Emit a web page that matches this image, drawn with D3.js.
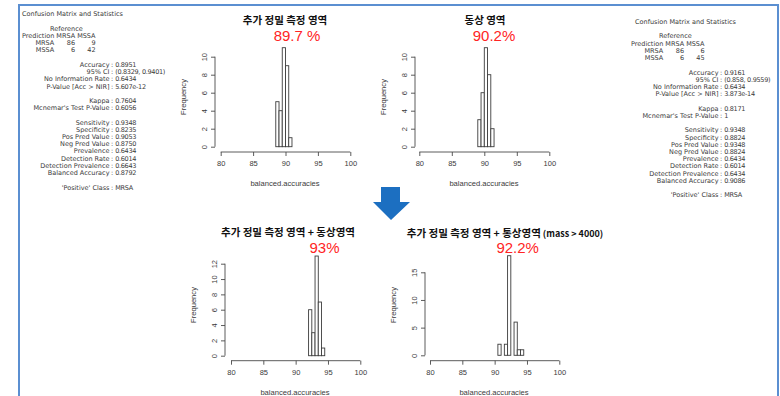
<!DOCTYPE html>
<html>
<head>
<meta charset="utf-8">
<script src="https://cdn.jsdelivr.net/npm/d3@7/dist/d3.min.js"></script>
<style>
  html, body { margin: 0; padding: 0; background: #fff; }
  svg { display: block; }
</style>
</head>
<body>
<svg id="chart" width="780" height="396"></svg>
<script>
// ---------------- DATA ----------------
const histTitles = [
  "추가 정밀 측정 영역",
  "동상 영역",
  "추가 정밀 측정 영역 + 동상영역",
  "추가 정밀 측정 영역 + 통상영역"
];
const histTitleSuffix = ["", "", "", " (mass > 4000)"];
const accuracyLabels = ["89.7 %", "90.2%", "93%", "92.2%"];

const binWidth = 0.5;
const bins1 = [88.5, 89, 89.5, 90, 90.5];
const counts1 = [5, 4, 11, 9, 1];
const bins2 = [89, 89.5, 90, 90.5, 91];
const counts2 = [3, 6, 11, 8, 2];
const bins3 = [92, 92.5, 93, 93.5, 94];
const counts3 = [6, 3, 13, 7, 1];
const bins4 = [90.5, 91, 91.5, 92, 92.5, 93, 93.5, 94];
const counts4 = [2, 0, 2, 18, 0, 6, 1, 1];

const xTicks = [80, 85, 90, 95, 100];
const yTicks1 = [0, 2, 4, 6, 8, 10];
const yTicks2 = [0, 2, 4, 6, 8, 10];
const yTicks3 = [0, 2, 4, 6, 8, 10, 12];
const yTicks4 = [0, 5, 10, 15];
const xLabel = "balanced.accuracies";
const yLabel = "Frequency";

// confusion matrix statistics
const cmTitle = "Confusion Matrix and Statistics";
const matrixCols = ["MRSA", "MSSA"];
const matrixLeft = [[86, 9], [6, 42]];
const matrixRight = [[86, 6], [6, 45]];
const statLabels = [
  "Accuracy", "95% CI", "No Information Rate", "P-Value [Acc > NIR]", null,
  "Kappa", "Mcnemar's Test P-Value", null,
  "Sensitivity", "Specificity", "Pos Pred Value", "Neg Pred Value",
  "Prevalence", "Detection Rate", "Detection Prevalence", "Balanced Accuracy", null,
  "'Positive' Class"
];
const statsLeft = [
  "0.8951", "(0.8329, 0.9401)", "0.6434", "5.607e-12", null,
  "0.7604", "0.6056", null,
  "0.9348", "0.8235", "0.9053", "0.8750", "0.6434", "0.6014", "0.6643", "0.8792", null,
  "MRSA"
];
const statsRight = [
  "0.9161", "(0.858, 0.9559)", "0.6434", "3.873e-14", null,
  "0.8171", "1", null,
  "0.9348", "0.8824", "0.9348", "0.8824", "0.6434", "0.6014", "0.6434", "0.9086", null,
  "MRSA"
];

// ---------------- LAYOUT ----------------
const svg = d3.select("#chart");
const FRAME = "#5b8fd1";
const AX = "#4a4a4a";

// outer frame (bottom side is beyond the picture)
svg.append("path")
  .attr("d", "M19,400 L19,5 L778,5 L778,400")
  .attr("fill", "none").attr("stroke", FRAME).attr("stroke-width", 2);

const panels = [
  { bins: bins1, counts: counts1, yTicks: yTicks1, x80: 220.7, x100: 350.3, y0: 146.7, yTopV: 10, yTopP: 56.7,
    axisY: 152, yAxisX: 215, titleX: 285, titleY: 24, accX: 297, accY: 41, labX: 285, labY: 186, freqX: 186, freqY: 97 },
  { bins: bins2, counts: counts2, yTicks: yTicks2, x80: 419.3, x100: 549.3, y0: 146.7, yTopV: 10, yTopP: 56.7,
    axisY: 152, yAxisX: 415, titleX: 485, titleY: 24, accX: 494, accY: 41, labX: 484, labY: 186, freqX: 386, freqY: 97 },
  { bins: bins3, counts: counts3, yTicks: yTicks3, x80: 231, x100: 360.3, y0: 355.7, yTopV: 12, yTopP: 263.7,
    axisY: 360.7, yAxisX: 225, titleX: 288, titleY: 235.5, accX: 324.5, accY: 252.5, labX: 295, labY: 394.5, freqX: 196, freqY: 305 },
  { bins: bins4, counts: counts4, yTicks: yTicks4, x80: 430, x100: 559.3, y0: 355.3, yTopV: 15, yTopP: 272.3,
    axisY: 360.7, yAxisX: 425, titleX: 505, titleY: 236.5, accX: 517.7, accY: 252.7, labX: 494, labY: 394.5, freqX: 396, freqY: 305 }
];

panels.forEach((p, i) => {
  const g = svg.append("g");
  const x = d3.scaleLinear().domain([80, 100]).range([p.x80, p.x100]);
  const y = d3.scaleLinear().domain([0, p.yTopV]).range([p.y0, p.yTopP]);

  // bars
  g.selectAll("rect.bar").data(p.bins.map((b, k) => ({ b, c: p.counts[k] })))
    .join("rect")
    .attr("x", d => x(d.b))
    .attr("width", d => x(d.b + binWidth) - x(d.b))
    .attr("y", d => y(d.c))
    .attr("height", d => y(0) - y(d.c))
    .attr("fill", "#fff").attr("stroke", "#3c3c3c").attr("stroke-width", 0.9);

  // x axis
  const xa = g.append("g").attr("transform", `translate(0,${p.axisY})`)
    .call(d3.axisBottom(x).tickValues(xTicks).tickSize(4).tickPadding(5).tickFormat(d3.format("d")));
  // y axis
  const ya = g.append("g").attr("transform", `translate(${p.yAxisX},0)`)
    .call(d3.axisLeft(y).tickValues(p.yTicks).tickSize(4).tickPadding(3).tickFormat(d3.format("d")));
  [xa, ya].forEach(a => {
    a.select(".domain").attr("stroke", AX).attr("stroke-width", 0.9)
      .attr("d", a === xa ? `M${x(80)},0H${x(100)}` : `M0,${y(p.yTicks[0])}V${y(p.yTicks[p.yTicks.length - 1])}`);
    a.selectAll(".tick line").attr("stroke", AX).attr("stroke-width", 0.9);
    a.selectAll(".tick text").attr("fill", "#3a3a3a")
      .style("font-family", "'Liberation Sans', Arial, sans-serif").style("font-size", "7.5px");
  });
  ya.selectAll(".tick text")
    .attr("text-anchor", "middle")
    .attr("transform", "translate(-10,0) rotate(-90)")
    .attr("x", 0).attr("dy", "0.32em");

  // axis labels
  g.append("text").attr("x", p.labX).attr("y", p.labY).attr("text-anchor", "middle")
    .attr("fill", "#3a3a3a").style("font-family", "'Liberation Sans', Arial, sans-serif").style("font-size", "7.6px")
    .text(xLabel);
  g.append("text").attr("transform", `translate(${p.freqX},${p.freqY}) rotate(-90)`).attr("text-anchor", "middle")
    .attr("fill", "#3a3a3a").style("font-family", "'Liberation Sans', Arial, sans-serif").style("font-size", "7.6px")
    .text(yLabel);

  // title
  const t = g.append("text").attr("x", p.titleX).attr("y", p.titleY).attr("text-anchor", "middle")
    .attr("fill", "#111").style("font-family", "'Noto Sans CJK KR', sans-serif").style("font-weight", "bold")
    .style("font-size", "10.5px");
  t.append("tspan").text(histTitles[i]);
  if (histTitleSuffix[i]) t.append("tspan").style("font-size", "9px").text(histTitleSuffix[i]);

  // accuracy label
  g.append("text").attr("x", p.accX).attr("y", p.accY).attr("text-anchor", "middle")
    .attr("fill", "#ff2424").style("font-family", "'Liberation Sans', Arial, sans-serif").style("font-size", "15px")
    .text(accuracyLabels[i]);
});

// down arrow
svg.append("path")
  .attr("d", "M381,187 L400,187 L400,202 L410,202 L391,220 L373,202 L381,202 Z")
  .attr("fill", "#1c6fc1");

// confusion matrix text panels
function statsPanel(x0, titleX, y0, matrix, values) {
  const g = svg.append("g").attr("fill", "#3a3a3a")
    .style("font-family", "'DejaVu Sans', sans-serif").style("font-size", "6.5px");
  const lh = 7.22;
  const colonX = x0 + 90;
  g.append("text").attr("x", titleX).attr("y", y0).text(cmTitle);
  g.append("text").attr("x", x0 + 28).attr("y", y0 + 2 * lh).text("Reference");
  const pred = g.append("text").attr("x", x0).attr("y", y0 + 3 * lh).text("Prediction");
  const pw = pred.node().getComputedTextLength();
  const c1 = g.append("text").attr("x", x0 + pw + 2).attr("y", y0 + 3 * lh).text(matrixCols[0]);
  const c1w = c1.node().getComputedTextLength();
  const c2 = g.append("text").attr("x", x0 + pw + 4 + c1w).attr("y", y0 + 3 * lh).text(matrixCols[1]);
  const c2w = c2.node().getComputedTextLength();
  matrix.forEach((row, r) => {
    const yy = y0 + (4 + r) * lh;
    g.append("text").attr("x", x0 + pw).attr("y", yy).attr("text-anchor", "end").text(matrixCols[r]);
    g.append("text").attr("x", x0 + pw + 2 + c1w).attr("y", yy).attr("text-anchor", "end").text(row[0]);
    g.append("text").attr("x", x0 + pw + 4 + c1w + c2w).attr("y", yy).attr("text-anchor", "end").text(row[1]);
  });
  statLabels.forEach((lab, k) => {
    if (lab === null) return;
    const yy = y0 + (7 + k) * lh;
    g.append("text").attr("x", colonX - 2.5).attr("y", yy).attr("text-anchor", "end").text(lab);
    g.append("text").attr("x", colonX).attr("y", yy).attr("text-anchor", "middle").text(":");
    g.append("text").attr("x", colonX + 3.2).attr("y", yy).style("letter-spacing", "-0.3px").text(values[k]);
  });
}
statsPanel(22, 22, 16.3, matrixLeft, statsLeft);
statsPanel(631, 635, 24, matrixRight, statsRight);
</script>
</body>
</html>
